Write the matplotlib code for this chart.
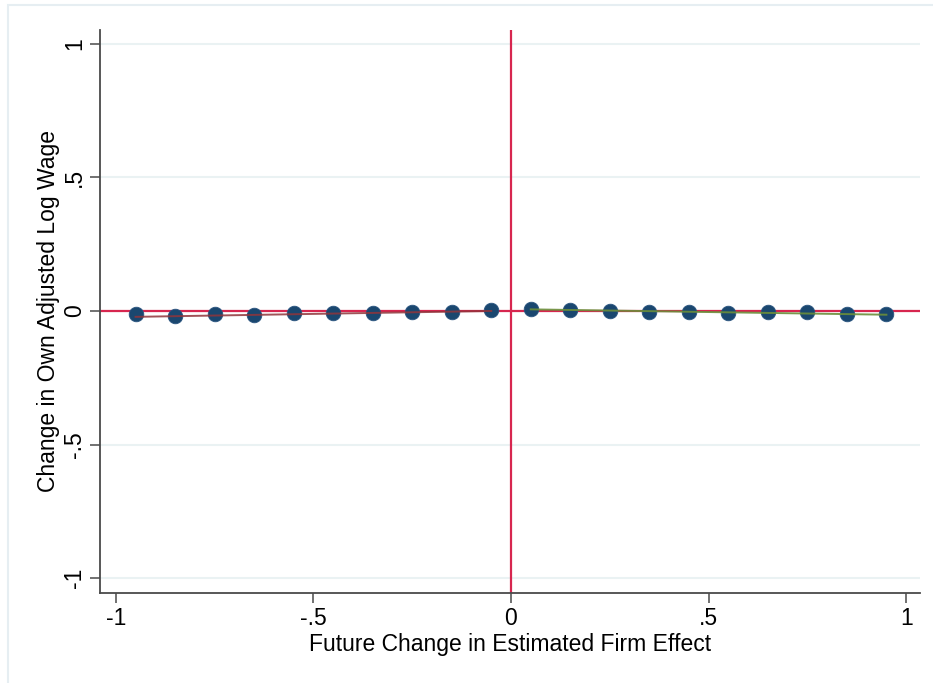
import matplotlib
matplotlib.use("Agg")
import matplotlib.pyplot as plt
from matplotlib.patches import Rectangle
import numpy as np

plt.rcParams['font.family'] = ['Liberation Sans', 'DejaVu Sans']

# binned scatter: bin centers and mean change in own adjusted log wage
bin_x = [-0.95, -0.85, -0.75, -0.65, -0.55, -0.45, -0.35, -0.25, -0.15, -0.05,
         0.05, 0.15, 0.25, 0.35, 0.45, 0.55, 0.65, 0.75, 0.85, 0.95]
bin_y = [-0.0125, -0.019, -0.0125, -0.015, -0.009, -0.009, -0.0075, -0.004, -0.0025, 0.0025,
         0.009, 0.005, 0.001, -0.004, -0.004, -0.006, -0.004, -0.004, -0.011, -0.010]

# linear fits on each side (endpoints)
left_fit_x = [-0.95, -0.05]
left_fit_y = [-0.022, 0.0]
right_fit_x = [0.05, 0.95]
right_fit_y = [0.006, -0.014]

xticks = [-1, -0.5, 0, 0.5, 1]
xtick_labels = ['-1', '-.5', '0', '.5', '1']
yticks = [-1, -0.5, 0, 0.5, 1]
ytick_labels = ['-1', '-.5', '0', '.5', '1']

navy = '#1a476f'
red = '#d7264f'

fig = plt.figure(figsize=(9.33, 6.83), dpi=100)
fig.patches.append(Rectangle((8 / 933, -0.05), 1.2, 1 - 5.5 / 683 + 0.05,
                             transform=fig.transFigure, fill=False,
                             edgecolor='#e6eef2', linewidth=1.5))
ax = fig.add_axes([100 / 933, 1 - 593 / 683, 820 / 933, 563 / 683])

for t in yticks:
    ax.axhline(t, color='#eaf2f3', linewidth=1.5, zorder=0)

ax.axhline(0, color=red, linewidth=1.6, zorder=1)
ax.axvline(0, color=red, linewidth=1.6, zorder=1)

ax.plot(bin_x, bin_y, 'o', color=navy, markersize=10.5, markeredgecolor='#2a5580',
        markeredgewidth=0.6, zorder=3)
ax.plot(left_fit_x, left_fit_y, color='#90353b', linewidth=1.4, alpha=0.85, zorder=4)
ax.plot(right_fit_x, right_fit_y, color='#6b8e3a', linewidth=1.4, alpha=0.9, zorder=4)

ax.set_xlim(-1.04, 1.035)
ax.set_ylim(-1.056, 1.052)
ax.set_xticks(xticks)
ax.set_xticklabels(xtick_labels)
ax.set_yticks(yticks)
ax.set_yticklabels(ytick_labels, rotation=90, va='center')

for side in ['top', 'right']:
    ax.spines[side].set_visible(False)
for side in ['left', 'bottom']:
    ax.spines[side].set_color('#4a4a4a')
    ax.spines[side].set_linewidth(1.3)
ax.tick_params(axis='both', direction='out', length=7, width=1.1, color='#4a4a4a',
               labelsize=16.5, pad=3)

ax.set_xlabel('Future Change in Estimated Firm Effect', fontsize=16.5, labelpad=2)
ax.set_ylabel('Change in Own Adjusted Log Wage', fontsize=16.5, labelpad=2)

fig.savefig('out.png', dpi=100)
